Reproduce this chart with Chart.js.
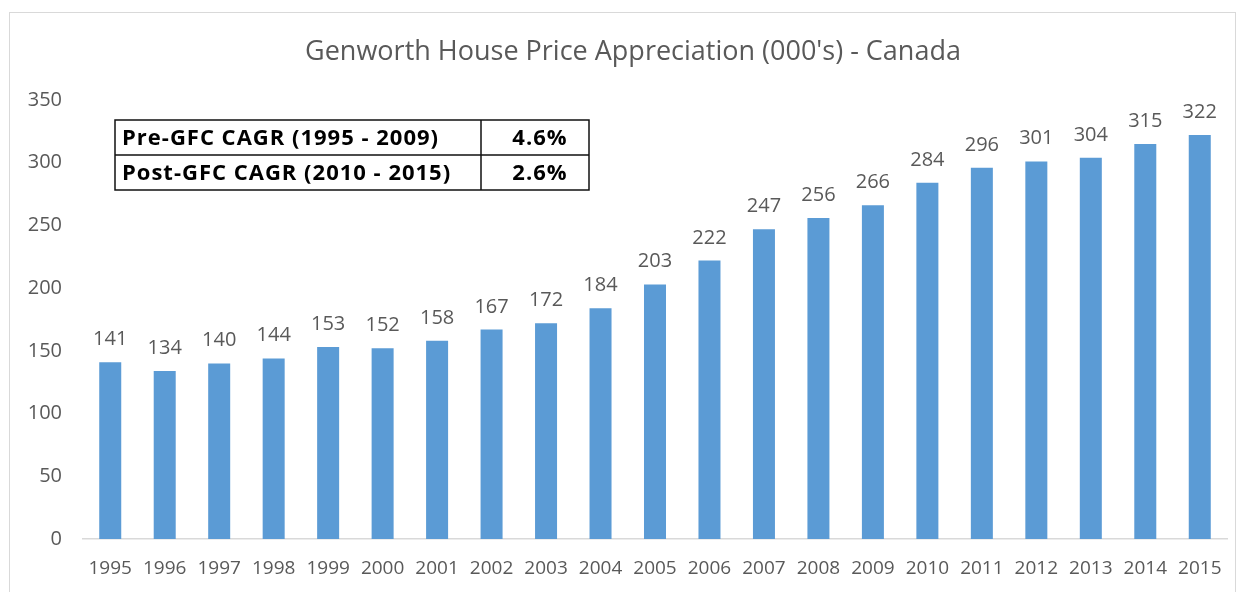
<!DOCTYPE html>
<html>
<head>
<meta charset="utf-8">
<script src="https://cdn.jsdelivr.net/npm/chart.js@4/dist/chart.umd.min.js"></script>
<style>
  html, body { margin: 0; padding: 0; background: #fff; }
  #wrap { position: relative; width: 1242px; height: 592px; }
  #frame { position: absolute; left: 9px; top: 12px; width: 1227px; height: 590px; border: 1px solid #d9d9d9; box-sizing: border-box; }
  canvas { position: absolute; left: 0; top: 0; }
</style>
</head>
<body>
<div id="wrap">
  <div id="frame"></div>
  <canvas id="chart" width="1242" height="592"></canvas>
</div>
<script>
// data
const years = ['1995', '1996', '1997', '1998', '1999', '2000', '2001', '2002', '2003', '2004', '2005',
  '2006', '2007', '2008', '2009', '2010', '2011', '2012', '2013', '2014', '2015'];
const prices = [141, 134, 140, 144, 153, 152, 158, 167, 172, 184, 203,
  222, 247, 256, 266, 284, 296, 301, 304, 315, 322];
const tableLabels = ['Pre-GFC CAGR (1995 - 2009)', 'Post-GFC CAGR (2010 - 2015)'];
const tableValues = ['4.6%', '2.6%'];
const chartTitle = "Genworth House Price Appreciation (000's) - Canada";

const FONT = '"Open Sans", sans-serif';
const GREY = '#595959';

// title drawn by hand so it can sit slightly right of centre like the original
const titleText = {
  id: 'titleText',
  afterDraw(chart) {
    const ctx = chart.ctx;
    ctx.save();
    ctx.font = '27px ' + FONT;
    ctx.fillStyle = GREY;
    ctx.textAlign = 'center';
    ctx.textBaseline = 'alphabetic';
    ctx.fillText(chartTitle, 633, 60);
    ctx.restore();
  },
};

// value above each bar
const barLabels = {
  id: 'barLabels',
  afterDatasetsDraw(chart) {
    const ctx = chart.ctx;
    const meta = chart.getDatasetMeta(0);
    ctx.save();
    ctx.font = '20px ' + FONT;
    ctx.fillStyle = GREY;
    ctx.textAlign = 'center';
    ctx.textBaseline = 'alphabetic';
    meta.data.forEach((bar, i) => {
      ctx.fillText(String(prices[i]), bar.x, bar.y - 17);
    });
    ctx.restore();
  },
};

// the little CAGR table in the top left
const cagrTable = {
  id: 'cagrTable',
  afterDraw(chart) {
    const ctx = chart.ctx;
    const left = 115, top = 120, w1 = 366, w2 = 108, rowH = 35;
    const rows = tableLabels.length;
    ctx.save();
    ctx.fillStyle = '#fff';
    ctx.fillRect(left, top, w1 + w2, rowH * rows);
    ctx.strokeStyle = '#111';
    ctx.lineWidth = 1.5;
    ctx.strokeRect(left, top, w1 + w2, rowH * rows);
    ctx.beginPath();
    for (let r = 1; r < rows; r++) {
      ctx.moveTo(left, top + rowH * r);
      ctx.lineTo(left + w1 + w2, top + rowH * r);
    }
    ctx.moveTo(left + w1, top);
    ctx.lineTo(left + w1, top + rowH * rows);
    ctx.stroke();
    ctx.fillStyle = '#000';
    ctx.font = 'bold 22px ' + FONT;
    ctx.letterSpacing = '1px';
    ctx.textBaseline = 'middle';
    tableLabels.forEach((t, r) => {
      const cy = top + rowH * r + rowH / 2 + 1;
      ctx.textAlign = 'left';
      ctx.fillText(t, left + 7, cy);
      ctx.textAlign = 'center';
      ctx.fillText(tableValues[r], left + w1 + w2 / 2 + 5, cy);
    });
    ctx.restore();
  },
};

new Chart(document.getElementById('chart').getContext('2d'), {
  type: 'bar',
  data: {
    labels: years,
    datasets: [{
      data: prices,
      backgroundColor: '#5B9BD5',
      categoryPercentage: 1,
      barPercentage: 0.404,
    }],
  },
  options: {
    responsive: false,
    animation: false,
    layout: { padding: { left: 0, right: 15, top: 100, bottom: 0 } },
    plugins: {
      legend: { display: false },
      tooltip: { enabled: false },
      title: { display: false },
    },
    scales: {
      x: {
        grid: { display: false, drawTicks: false },
        border: { color: '#d9d9d9', width: 1.5 },
        ticks: { color: GREY, font: { family: FONT, size: 19 }, padding: 18, maxRotation: 0, autoSkip: false },
        afterFit(scale) { scale.height = 53; },
      },
      y: {
        min: 0,
        max: 350,
        grid: { display: false, drawTicks: false },
        border: { display: false },
        ticks: { stepSize: 50, color: GREY, font: { family: FONT, size: 20 }, padding: 21 },
        afterFit(scale) { scale.width = 83; },
      },
    },
  },
  plugins: [barLabels, cagrTable, titleText],
});
</script>
</body>
</html>
